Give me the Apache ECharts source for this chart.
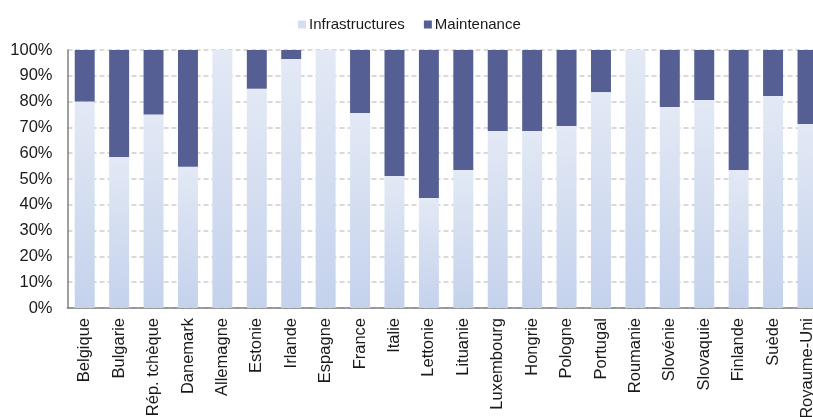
<!DOCTYPE html>
<html>
<head>
<meta charset="utf-8">
<script src="https://cdn.jsdelivr.net/npm/echarts@6/dist/echarts.min.js"></script>
<style>
  html, body { margin: 0; padding: 0; background: #ffffff; }
  #chart { width: 813px; height: 417px; }
</style>
</head>
<body>
<div id="chart"></div>
<script>
// Share of spending by country (%)
var countries = ['Belgique', 'Bulgarie', 'Rép. tchèque', 'Danemark', 'Allemagne', 'Estonie', 'Irlande',
  'Espagne', 'France', 'Italie', 'Lettonie', 'Lituanie', 'Luxembourg', 'Hongrie', 'Pologne', 'Portugal',
  'Roumanie', 'Slovénie', 'Slovaquie', 'Finlande', 'Suède', 'Royaume-Uni'];
var infrastructures = [80, 58.5, 75, 54.7, 100, 85, 96.5, 100, 75.6, 51.2, 42.6, 53.5, 68.6, 68.6,
  70.5, 83.7, 100, 77.9, 80.6, 53.5, 82.2, 71.3];
var maintenance = [20, 41.5, 25, 45.3, 0, 15, 3.5, 0, 24.4, 48.8, 57.4, 46.5, 31.4, 31.4,
  29.5, 16.3, 0, 22.1, 19.4, 46.5, 17.8, 28.7];
var yTicks = [0, 10, 20, 30, 40, 50, 60, 70, 80, 90, 100];

var FONT = 'Liberation Sans, Arial, Helvetica, sans-serif';
var chart = echarts.init(document.getElementById('chart'), null, { renderer: 'canvas' });

var infraFill = new echarts.graphic.LinearGradient(0, 0, 0.15, 1, [
  { offset: 0, color: '#e3e9f5' },
  { offset: 1, color: '#c4d2ec' }
]);

chart.setOption({
  animation: false,
  backgroundColor: '#ffffff',
  legend: {
    top: 12,
    left: 293,
    itemWidth: 8,
    itemHeight: 8,
    itemGap: 19,
    icon: 'rect',
    textStyle: { fontFamily: FONT, fontSize: 15, color: '#1a1a1a', padding: [0, 0, 0, -2] },
    data: [
      { name: 'Infrastructures', itemStyle: { color: '#d5def0' } },
      { name: 'Maintenance', itemStyle: { color: '#555f94' } }
    ]
  },
  grid: {
    left: 67.5,
    top: 50,
    bottom: 109,
    right: -11.7,
    outerBoundsMode: 'none',
    containLabel: false
  },
  xAxis: {
    type: 'category',
    data: countries,
    axisLine: { show: true, lineStyle: { color: '#808080', width: 1.5 } },
    axisTick: { show: false },
    axisLabel: {
      interval: 0,
      rotate: 90,
      margin: 10,
      fontFamily: FONT,
      fontSize: 16.5,
      color: '#1a1a1a'
    }
  },
  yAxis: {
    type: 'value',
    min: 0,
    max: 100,
    interval: 10,
    axisLine: { show: true, lineStyle: { color: '#808080', width: 1.5 } },
    axisTick: { show: false },
    splitLine: { show: true, lineStyle: { color: '#d9d9d9', width: 2, type: [5, 3] } },
    axisLabel: {
      margin: 15,
      fontFamily: FONT,
      fontSize: 16.5,
      color: '#1a1a1a',
      formatter: function (v) { return yTicks.indexOf(v) >= 0 ? v + '%' : ''; }
    }
  },
  series: [
    {
      name: 'Infrastructures',
      type: 'bar',
      stack: 'total',
      barCategoryGap: '42%',
      itemStyle: { color: infraFill },
      data: infrastructures
    },
    {
      name: 'Maintenance',
      type: 'bar',
      stack: 'total',
      barCategoryGap: '42%',
      itemStyle: { color: '#555f94' },
      data: maintenance
    }
  ]
});
</script>
</body>
</html>
